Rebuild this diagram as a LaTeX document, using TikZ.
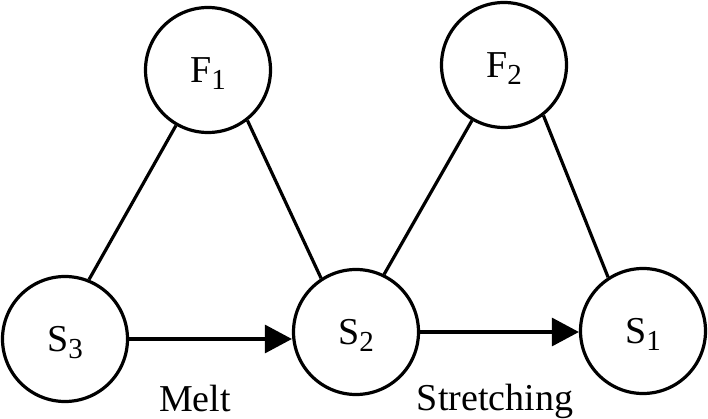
\documentclass[tikz,border=0pt]{standalone}
\usepackage{fontspec}
\setmainfont{Liberation Serif}
\usetikzlibrary{arrows.meta}
\newcommand{\lbl}[2]{#1\smash{\raisebox{-7pt}{\fontsize{29}{32}\selectfont #2}}}
\begin{document}
\begin{tikzpicture}[x=1pt,y=-1pt,
  state/.style={draw, circle, line width=3.2pt, minimum size=125pt, inner sep=0pt,
    font=\fontsize{38}{44}\selectfont},
  link/.style={line width=3.2pt},
  flow/.style={line width=3.2pt, -{Triangle[length=27pt,width=28pt]}},
  caption/.style={anchor=base, inner sep=0pt, font=\fontsize{38}{44}\selectfont}]
\useasboundingbox (0,0) rectangle (708,419);
\node[state] (F1) at (208,70) {\lbl{F}{1}};
\node[state] (F2) at (504,65) {\lbl{F}{2}};
\node[state] (S3) at (65,339) {\lbl{S}{3}};
\node[state] (S2) at (356,332) {\lbl{S}{2}};
\node[state] (S1) at (643,331) {\lbl{S}{1}};
\draw[link] (F1.-120) -- (S3.68);
\draw[link] (F1.-52) -- (S2.123);
\draw[link] (F2.-120) -- (S2.64);
\draw[link] (F2.-52) -- (S1.123);
\draw[flow] (S3.east) -- (S3.east -| S2.west);
\draw[flow] (S2.east) -- (S2.east -| S1.west);
\node[caption] (melt) at (195,411) {Melt};
\node[caption] (stretch) at (495,410) {Stretching};
\end{tikzpicture}
\end{document}
